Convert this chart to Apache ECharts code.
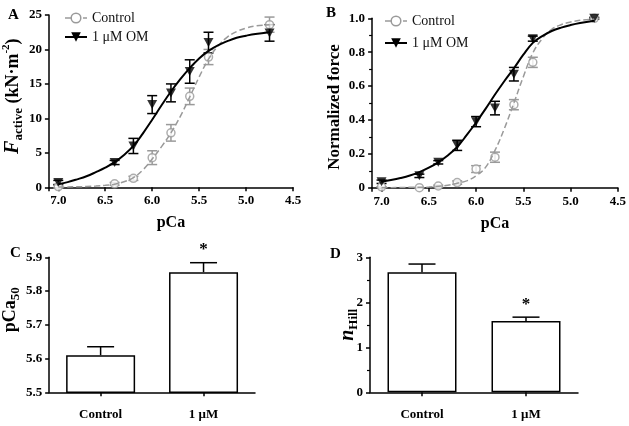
<!DOCTYPE html>
<html><head><meta charset="utf-8">
<script src="https://cdn.jsdelivr.net/npm/echarts@6/dist/echarts.min.js"></script>
<style>html,body{margin:0;padding:0;background:#fff}#c{width:629px;height:426px}</style>
</head><body><div id="c"></div>
<script>
// ---- data ----
const pcaFit = [7.0, 6.9, 6.8, 6.7, 6.6, 6.5, 6.4, 6.3, 6.2, 6.1, 6.0, 5.9, 5.8, 5.7, 5.6, 5.5, 5.4, 5.3, 5.2, 5.1, 5.0, 4.9, 4.75];
const fitA_ctrl = [0.05, 0.06, 0.08, 0.12, 0.18, 0.28, 0.45, 0.8, 1.4, 2.5, 4.1, 5.9, 7.9, 10.3, 13.1, 16.0, 18.6, 20.5, 21.8, 22.6, 23.1, 23.4, 23.6];
const fitA_om   = [0.45, 0.75, 1.15, 1.6, 2.2, 2.85, 3.65, 4.7, 6.0, 7.8, 9.8, 11.9, 13.9, 15.7, 17.3, 18.7, 19.8, 20.6, 21.2, 21.7, 22.0, 22.25, 22.5];
const fitB_ctrl = [0.0, 0.0, 0.001, 0.002, 0.002, 0.004, 0.008, 0.014, 0.026, 0.04, 0.07, 0.12, 0.22, 0.35, 0.5, 0.655, 0.795, 0.88, 0.935, 0.962, 0.978, 0.988, 0.995];
const fitB_om   = [0.035, 0.045, 0.057, 0.072, 0.092, 0.118, 0.15, 0.19, 0.24, 0.31, 0.385, 0.465, 0.55, 0.63, 0.705, 0.785, 0.855, 0.895, 0.925, 0.945, 0.96, 0.972, 0.985];

const pcaA = [7.0, 6.4, 6.2, 6.0, 5.8, 5.6, 5.4, 4.75];
const ctrlA = [0.1, 0.5, 1.3, 4.3, 7.9, 13.2, 18.9, 23.6];
const ctrlA_sem = [0.2, 0.2, 0.3, 1.0, 1.2, 1.2, 1.1, 1.1];
const omA = [0.7, 3.6, 6.0, 12.0, 13.7, 16.8, 21.0, 22.4];
const omA_sem = [0.3, 0.3, 1.1, 1.3, 1.3, 1.7, 1.5, 1.2];

const pcaB = [7.0, 6.6, 6.4, 6.2, 6.0, 5.8, 5.6, 5.4, 4.75];
const ctrlB = [0.005, 0.0, 0.01, 0.03, 0.11, 0.18, 0.49, 0.74, 1.0];
const ctrlB_sem = [0.0, 0.0, 0.005, 0.01, 0.02, 0.03, 0.03, 0.03, 0.005];
const omB = [0.035, 0.07, 0.15, 0.25, 0.39, 0.47, 0.67, 0.88, 1.0];
const omB_sem = [0.01, 0.01, 0.01, 0.03, 0.03, 0.04, 0.04, 0.015, 0.005];

const barCats = ['Control', '1 μM'];
const pca50 = [5.61, 5.856];
const pca50_sem = [0.025, 0.028];
const nHill = [2.67, 1.585];
const nHill_sem = [0.18, 0.085];
const sigMarks = ['', '*'];

const xTicksPca = [4.5, 5.0, 5.5, 6.0, 6.5, 7.0];

// ---- helpers ----
const FF = 'Liberation Serif';
const GRAY = '#9a9a9a';
const zip = (xs, ys) => xs.map((x, i) => [x, ys[i]]);
const errData = (xs, m, s) => xs.map((x, i) => [x, m[i] - s[i], m[i] + s[i]]);

function errRender(color, capW, both) {
  return function (params, api) {
    const x = api.value(0), lo = api.value(1), hi = api.value(2);
    const a = api.coord([x, lo]), b = api.coord([x, hi]);
    const h = capW / 2;
    const st = { stroke: color, lineWidth: 1.5 };
    const ch = [
      { type: 'line', shape: { x1: a[0], y1: a[1], x2: b[0], y2: b[1] }, style: st },
      { type: 'line', shape: { x1: b[0] - h, y1: b[1], x2: b[0] + h, y2: b[1] }, style: st }
    ];
    if (both) ch.push({ type: 'line', shape: { x1: a[0] - h, y1: a[1], x2: a[0] + h, y2: a[1] }, style: st });
    const mark = api.value(3);
    if (mark) ch.push({ type: 'text', style: { text: '*', x: b[0], y: b[1] - 13, textAlign: 'center', textVerticalAlign: 'middle', font: 'bold 17px "' + FF + '"', fill: '#000' } });
    return { type: 'group', children: ch };
  };
}

const axisLineS = { show: true, onZero: false, lineStyle: { color: '#000', width: 1.5 } };
const axisTickS = { show: true, length: 4, lineStyle: { color: '#000', width: 1.5 } };
const labelS = { color: '#000', fontFamily: FF, fontWeight: 'bold', fontSize: 13 };
const nameS = { color: '#000', fontFamily: FF, fontWeight: 'bold', fontSize: 16 };
const rich = {
  n: { fontFamily: FF, fontWeight: 'bold', fontSize: 18, lineHeight: 24, color: '#000' },
  i: { fontFamily: FF, fontWeight: 'bold', fontStyle: 'italic', fontSize: 20, lineHeight: 24, color: '#000' },
  sub: { fontFamily: FF, fontWeight: 'bold', fontSize: 13, lineHeight: 12, verticalAlign: 'bottom', color: '#000' },
  sup: { fontFamily: FF, fontWeight: 'bold', fontSize: 11, lineHeight: 10, verticalAlign: 'top', color: '#000' }
};

function pcaX(grid) {
  return {
    type: 'value', gridIndex: grid, min: 4.5, max: 7.1, interval: 0.5, inverse: true,
    axisLine: axisLineS, axisTick: axisTickS, splitLine: { show: false },
    axisLabel: Object.assign({ margin: 7, formatter: v => xTicksPca.some(t => Math.abs(t - v) < 1e-6) ? v.toFixed(1) : '' }, labelS),
    name: 'pCa', nameLocation: 'middle', nameGap: 28, nameTextStyle: nameS
  };
}

const legendText = { fontFamily: FF, fontSize: 14, color: '#111' };
const legendData = [
  { name: 'Control', itemStyle: { color: '#fff', borderColor: GRAY, borderWidth: 1.5 }, lineStyle: { color: GRAY, width: 1.5, type: 'dashed' } },
  { name: '1 μM OM', symbolRotate: 180, itemStyle: { color: '#000', borderWidth: 0 }, lineStyle: { color: '#000', width: 2, type: 'solid' } }
];

const option = {
  animation: false,
  backgroundColor: '#fff',
  title: [
    { text: 'A', left: 3, top: 3, textStyle: { fontFamily: FF, fontWeight: 'bold', fontSize: 15, color: '#000' } },
    { text: 'B', left: 321, top: 1, textStyle: { fontFamily: FF, fontWeight: 'bold', fontSize: 15, color: '#000' } },
    { text: 'C', left: 5, top: 241, textStyle: { fontFamily: FF, fontWeight: 'bold', fontSize: 15, color: '#000' } },
    { text: 'D', left: 325, top: 242, textStyle: { fontFamily: FF, fontWeight: 'bold', fontSize: 15, color: '#000' } }
  ],
  legend: [
    { left: 59, top: 6, orient: 'vertical', itemWidth: 22, itemHeight: 12, itemGap: 5, selectedMode: false, data: legendData, textStyle: legendText },
    { left: 379, top: 9, orient: 'vertical', itemWidth: 22, itemHeight: 12, itemGap: 8, selectedMode: false, data: legendData, textStyle: legendText }
  ],
  grid: [
    { left: 47.5, top: 15, width: 245.5, height: 172.3 },
    { left: 372.1, top: 18.3, width: 249.6, height: 169.4 },
    { left: 48.3, top: 257.3, width: 206.7, height: 135 },
    { left: 370, top: 257.3, width: 208, height: 135 }
  ],
  xAxis: [
    pcaX(0), pcaX(1),
    { type: 'category', gridIndex: 2, data: barCats, axisLine: axisLineS, axisTick: Object.assign({ alignWithLabel: true }, axisTickS), axisLabel: Object.assign({ margin: 16 }, labelS) },
    { type: 'category', gridIndex: 3, data: barCats, axisLine: axisLineS, axisTick: Object.assign({ alignWithLabel: true }, axisTickS), axisLabel: Object.assign({ margin: 16 }, labelS) }
  ],
  yAxis: [
    { type: 'value', gridIndex: 0, min: 0, max: 25, interval: 5, axisLine: axisLineS, axisTick: axisTickS, splitLine: { show: false }, axisLabel: Object.assign({ margin: 7 }, labelS),
      name: '{i|F}{sub|active}{n| (kN·m}{sup|-2}{n|)}', nameLocation: 'middle', nameGap: 15, nameTextStyle: { rich: rich, padding: [0, 0, 0, 10] } },
    { type: 'value', gridIndex: 1, min: 0, max: 1, interval: 0.2, axisLine: axisLineS, axisTick: axisTickS, splitLine: { show: false },
      minorTick: { show: true, splitNumber: 2, length: 3, lineStyle: { color: '#000', width: 1.2 } },
      axisLabel: Object.assign({ margin: 7, formatter: v => v === 0 ? '0' : v.toFixed(1) }, labelS),
      name: 'Normalized force', nameLocation: 'middle', nameGap: 29, nameTextStyle: Object.assign({}, nameS, { fontSize: 17, padding: [0, 8, 0, 0] }) },
    { type: 'value', gridIndex: 2, min: 5.5, max: 5.9, interval: 0.1, axisLine: axisLineS, axisTick: axisTickS, splitLine: { show: false },
      axisLabel: Object.assign({ margin: 7, formatter: v => v.toFixed(1) }, labelS),
      name: '{n|pCa}{sub|50}', nameLocation: 'middle', nameGap: 24, nameTextStyle: { rich: rich, padding: [0, 0, 0, 30] } },
    { type: 'value', gridIndex: 3, min: 0, max: 3, interval: 1, axisLine: axisLineS, axisTick: axisTickS, splitLine: { show: false },
      minorTick: { show: true, splitNumber: 2, length: 3, lineStyle: { color: '#000', width: 1.2 } },
      axisLabel: Object.assign({ margin: 7 }, labelS),
      name: '{i|n}{sub|Hill}', nameLocation: 'middle', nameGap: 10, nameMoveOverlap: false, nameTextStyle: { rich: rich } }
  ],
  series: [
    // Panel A
    { name: 'Control', type: 'line', xAxisIndex: 0, yAxisIndex: 0, data: zip(pcaFit, fitA_ctrl), smooth: 0.4, symbol: 'circle', showSymbol: false,
      lineStyle: { color: GRAY, width: 1.5, type: 'dashed' }, itemStyle: { color: '#fff', borderColor: GRAY } },
    { name: 'errA_ctrl', type: 'custom', xAxisIndex: 0, yAxisIndex: 0, data: errData(pcaA, ctrlA, ctrlA_sem), renderItem: errRender(GRAY, 10, true) },
    { name: 'ptsA_ctrl', type: 'scatter', xAxisIndex: 0, yAxisIndex: 0, data: zip(pcaA, ctrlA), symbol: 'circle', symbolSize: 8,
      itemStyle: { color: '#fff', borderColor: GRAY, borderWidth: 1.5 } },
    { name: '1 μM OM', type: 'line', xAxisIndex: 0, yAxisIndex: 0, data: zip(pcaFit, fitA_om), smooth: 0.4, symbol: 'triangle', symbolRotate: 180, showSymbol: false,
      lineStyle: { color: '#000', width: 2 }, itemStyle: { color: '#000' } },
    { name: 'errA_om', type: 'custom', xAxisIndex: 0, yAxisIndex: 0, data: errData(pcaA, omA, omA_sem), renderItem: errRender('#000', 10, true) },
    { name: 'ptsA_om', type: 'scatter', xAxisIndex: 0, yAxisIndex: 0, data: zip(pcaA, omA), symbol: 'triangle', symbolRotate: 180, symbolSize: [10, 9],
      itemStyle: { color: '#000' } },
    // Panel B
    { name: 'Control', type: 'line', xAxisIndex: 1, yAxisIndex: 1, data: zip(pcaFit, fitB_ctrl), smooth: 0.4, symbol: 'circle', showSymbol: false,
      lineStyle: { color: GRAY, width: 1.5, type: 'dashed' }, itemStyle: { color: '#fff', borderColor: GRAY } },
    { name: 'errB_ctrl', type: 'custom', xAxisIndex: 1, yAxisIndex: 1, data: errData(pcaB, ctrlB, ctrlB_sem), renderItem: errRender(GRAY, 10, true) },
    { name: 'ptsB_ctrl', type: 'scatter', xAxisIndex: 1, yAxisIndex: 1, data: zip(pcaB, ctrlB), symbol: 'circle', symbolSize: 8,
      itemStyle: { color: '#fff', borderColor: GRAY, borderWidth: 1.5 } },
    { name: '1 μM OM', type: 'line', xAxisIndex: 1, yAxisIndex: 1, data: zip(pcaFit, fitB_om), smooth: 0.4, symbol: 'triangle', symbolRotate: 180, showSymbol: false,
      lineStyle: { color: '#000', width: 2 }, itemStyle: { color: '#000' } },
    { name: 'errB_om', type: 'custom', xAxisIndex: 1, yAxisIndex: 1, data: errData(pcaB, omB, omB_sem), renderItem: errRender('#000', 10, true) },
    { name: 'ptsB_om', type: 'scatter', xAxisIndex: 1, yAxisIndex: 1, data: zip(pcaB, omB), symbol: 'triangle', symbolRotate: 180, symbolSize: [10, 9],
      itemStyle: { color: '#000' } },
    // Panel C
    { name: 'barC', type: 'bar', xAxisIndex: 2, yAxisIndex: 2, data: pca50, barWidth: 69,
      itemStyle: { color: '#fff', borderColor: '#000', borderWidth: 1.5 } },
    { name: 'errC', type: 'custom', xAxisIndex: 2, yAxisIndex: 2, data: pca50.map((v, i) => [i, v, v + pca50_sem[i], sigMarks[i] ? 1 : 0]), renderItem: errRender('#000', 27, false) },
    // Panel D
    { name: 'barD', type: 'bar', xAxisIndex: 3, yAxisIndex: 3, data: nHill, barWidth: 69,
      itemStyle: { color: '#fff', borderColor: '#000', borderWidth: 1.5 } },
    { name: 'errD', type: 'custom', xAxisIndex: 3, yAxisIndex: 3, data: nHill.map((v, i) => [i, v, v + nHill_sem[i], sigMarks[i] ? 1 : 0]), renderItem: errRender('#000', 27, false) }
  ]
};
const chart = echarts.init(document.getElementById('c'));
chart.setOption(option);
</script>
</body></html>
